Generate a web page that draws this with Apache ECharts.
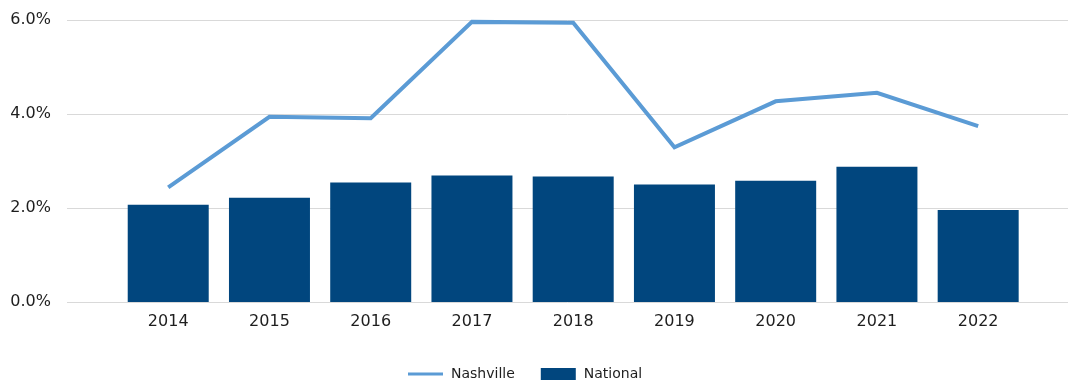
<!DOCTYPE html>
<html>
<head>
<meta charset="utf-8">
<script src="https://cdn.jsdelivr.net/npm/echarts@6/dist/echarts.min.js"></script>
<style>
  html, body { margin: 0; padding: 0; background: #fff; }
  #chart { width: 1068px; height: 381px; }
</style>
</head>
<body>
<div id="chart"></div>
<script>
// Annual rates, percent
const years = ['2014', '2015', '2016', '2017', '2018', '2019', '2020', '2021', '2022'];
const nashville = [2.44, 3.94, 3.91, 5.96, 5.94, 3.29, 4.27, 4.45, 3.74];
const national = [2.07, 2.22, 2.54, 2.69, 2.67, 2.50, 2.58, 2.88, 1.96];
const yTicks = [0, 2, 4, 6];

const FONT = 'DejaVu Sans';
const TEXT = '#1e1e1e';
const GRIDLINE = '#d9d9d9';

const chart = echarts.init(document.getElementById('chart'), null, { renderer: 'canvas' });

const yMin = yTicks[0];
const yMax = yTicks[yTicks.length - 1];
const yStep = yTicks[1] - yTicks[0];

chart.setOption({
  animation: false,
  textStyle: { fontFamily: FONT },
  grid: [
    // wide grid: carries the value labels and horizontal gridlines
    { left: 67, right: 0, top: 20, height: 282 },
    // inner grid: category bands for bars and line
    { left: 117.6, right: 39.2, top: 20, height: 282 }
  ],
  legend: {
    left: 408,
    top: 367,
    padding: 0,
    itemWidth: 35,
    itemHeight: 12,
    itemGap: 26,
    textStyle: { fontFamily: FONT, fontSize: 14, color: TEXT, padding: [0, 0, 0, 3] },
    data: [
      { name: 'Nashville', icon: 'path://M0,5 L35,5 L35,8 L0,8 Z' },
      { name: 'National', icon: 'rect' }
    ]
  },
  xAxis: [
    { gridIndex: 0, type: 'value', min: 0, max: 1, show: false },
    {
      gridIndex: 1,
      type: 'category',
      data: years,
      boundaryGap: true,
      axisLine: { show: false },
      axisTick: { show: false },
      axisLabel: { color: TEXT, fontFamily: FONT, fontSize: 16, margin: 12 }
    }
  ],
  yAxis: [
    {
      gridIndex: 0,
      type: 'value',
      min: yMin,
      max: yMax,
      interval: yStep,
      axisLine: { show: false },
      axisTick: { show: false },
      splitLine: { lineStyle: { color: GRIDLINE, width: 1 } },
      axisLabel: {
        color: TEXT,
        fontFamily: FONT,
        fontSize: 16,
        margin: 16,
        formatter: v => v.toFixed(1) + '%'
      }
    },
    {
      gridIndex: 1,
      type: 'value',
      min: yMin,
      max: yMax,
      interval: yStep,
      show: false
    }
  ],
  series: [
    {
      name: 'National',
      type: 'bar',
      xAxisIndex: 1,
      yAxisIndex: 1,
      data: national,
      barWidth: '80%',
      itemStyle: { color: '#01467e' },
      z: 2
    },
    {
      name: 'Nashville',
      type: 'line',
      xAxisIndex: 1,
      yAxisIndex: 1,
      data: nashville,
      symbol: 'none',
      lineStyle: { color: '#5b9bd5', width: 4, join: 'miter' },
      itemStyle: { color: '#5b9bd5' },
      z: 3
    }
  ]
});
</script>
</body>
</html>
